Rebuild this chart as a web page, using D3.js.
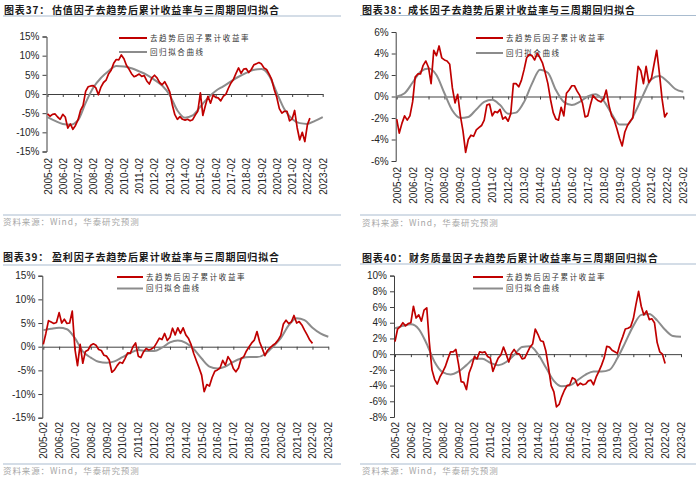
<!DOCTYPE html>
<html>
<head>
<meta charset="utf-8">
<script src="https://cdn.jsdelivr.net/npm/d3@7"></script>
<style>
body { margin: 0; background: #fff; }
svg { display: block; }
.num { font-family: "Liberation Sans", Arial, sans-serif; font-size: 10px; fill: #262626; }
.title { font-family: "Noto Sans CJK SC", sans-serif; font-weight: 700; font-size: 10px; fill: #1a1a1a; letter-spacing: 0.85px; }
.legend { font-family: "Noto Sans CJK SC", sans-serif; font-size: 7.5px; fill: #333; letter-spacing: 1.6px; }
.source { font-family: "Noto Sans CJK SC", sans-serif; font-size: 8.5px; fill: #a6a6a6; letter-spacing: 0.9px; }
</style>
</head>
<body>
<div class="chart"></div>
<script>
var xTickLabels = ["2005-02","2006-02","2007-02","2008-02","2009-02","2010-02","2011-02","2012-02","2013-02",
  "2014-02","2015-02","2016-02","2017-02","2018-02","2019-02","2020-02","2021-02","2022-02","2023-02"];
var seriesStart = "2005-02";
var redStepMonths = 2;   // red series: one value every two months
var fitStepMonths = 6;   // fitted curve: one value every half year
var legendNames = ["去趋势后因子累计收益率", "回归拟合曲线"];
var sourceText = "资料来源：Wind，华泰研究预测";

var titles = ["估值因子去趋势后累计收益率与三周期回归拟合", "成长因子去趋势后累计收益率与三周期回归拟合",
  "盈利因子去趋势后累计收益率与三周期回归拟合", "财务质量因子去趋势后累计收益率与三周期回归拟合"];
var chartNos = ["图表37：", "图表38：", "图表39：", "图表40："];

var red37 = [-5.2,-5.8,-5.3,-5.2,-6.0,-6.6,-5.3,-6.0,-8.9,-7.8,
  -9.2,-8.2,-6.7,-4.3,-3.0,0.7,1.9,2.1,2.2,1.6,
  -0.2,1.8,3.0,3.6,5.3,6.2,8.0,9.0,8.9,10.2,
  9.2,7.5,6.5,5.3,4.5,4.8,5.2,4.6,4.8,3.4,
  2.6,4.2,4.9,4.2,3.0,2.4,3.2,2.0,0.5,-2.8,
  -5.4,-6.6,-5.9,-6.6,-6.8,-6.6,-7.0,-6.7,-5.5,-4.5,
  0.3,-5.6,-3.0,-0.6,-2.4,-0.3,-0.9,-1.0,-1.8,-0.6,
  -0.1,1.5,2.9,3.8,5.4,6.8,5.4,6.5,6.6,5.6,
  6.4,7.6,7.9,8.2,7.8,6.8,6.4,5.2,3.8,1.2,
  -0.9,-3.8,-5.0,-4.5,-4.5,-7.0,-6.5,-4.3,-8.8,-12.0,
  -10.0,-12.4,-8.0,-6.3];
var fit37 = [-6.0,-7.0,-7.8,-8.0,-6.8,-2.3,1.7,4.2,6.0,7.3,
  7.2,6.7,5.9,5.0,3.7,2.2,-0.3,-4.3,-6.2,-5.6,
  -3.3,-1.0,0.8,2.0,3.3,4.5,5.5,6.3,6.5,4.8,
  0.3,-4.0,-6.5,-7.6,-7.8,-7.0,-6.0];

var red38 = [-2.1,-3.4,-2.5,-1.8,-2.2,-1.8,-0.5,1.8,2.1,2.1,
  2.9,3.3,2.7,1.2,4.3,3.8,4.7,3.6,3.4,3.3,
  3.0,0.8,-0.6,0.2,-1.8,-3.2,-5.2,-4.0,-3.6,-3.7,
  -3.1,-2.9,-2.7,-2.2,-0.8,-0.7,-1.8,-1.4,-1.5,-1.2,
  -2.1,-1.9,-2.3,-1.6,1.2,1.2,0.9,1.5,2.5,3.6,
  3.9,3.8,3.4,4.0,3.6,3.1,2.2,1.2,-0.3,-1.5,
  -2.1,-2.2,-1.0,-1.8,0.3,0.6,1.0,1.0,0.5,0.1,
  -0.6,-1.9,-1.8,-0.8,0.1,-0.2,-0.4,-0.5,-0.2,0.6,
  -0.8,-1.8,-2.2,-3.0,-3.9,-4.6,-3.3,-2.7,-2.3,-2.0,
  0.4,2.8,2.4,1.2,2.8,1.3,1.7,3.0,4.3,2.2,
  -0.2,-1.9,-1.5];
var fit38 = [0.0,0.3,1.3,2.3,2.6,2.0,0.3,-1.3,-2.0,-1.9,
  -1.2,-0.5,-0.3,-0.8,-1.6,-1.5,-0.5,1.2,2.5,2.2,
  0.6,-0.5,-0.8,-0.5,0.0,0.2,-0.4,-1.6,-2.6,-2.6,
  -1.4,0.2,1.6,1.9,1.4,0.7,0.45];

var red39 = [0.5,2.8,5.5,5.2,4.9,5.1,7.2,5.0,5.8,4.9,
  5.0,7.5,-0.5,-4.0,0.5,-3.5,-1.0,-0.7,0.3,0.6,
  0.3,-0.6,-0.8,-1.8,-2.0,-2.8,-5.4,-4.9,-4.0,-3.3,
  -3.5,-2.5,-1.3,-1.4,0.0,0.8,-2.0,-2.3,-1.1,-0.4,
  -0.7,-0.5,-0.1,0.8,1.8,1.5,2.8,1.3,2.0,3.9,
  2.5,4.0,2.8,4.0,2.5,1.8,0.5,-1.4,-2.9,-4.4,
  -6.0,-9.5,-8.0,-8.3,-6.5,-5.2,-4.9,-4.5,-2.9,-3.9,
  -2.1,-3.0,-4.6,-5.3,-4.5,-2.5,-2.1,-0.9,0.0,0.8,
  1.4,3.2,1.0,-0.4,-1.9,-0.8,-0.2,0.3,0.7,1.4,
  2.4,4.8,5.6,4.9,5.2,6.6,5.0,5.3,4.6,3.5,
  2.5,1.4,0.7];
var fit39 = [3.5,3.8,4.0,3.7,1.8,-1.0,-2.3,-3.2,-3.4,-3.1,
  -2.2,-1.3,-0.7,-0.9,-0.9,-0.2,0.9,1.3,0.8,-0.5,
  -2.5,-4.2,-4.6,-4.2,-3.2,-2.5,-2.2,-2.2,-1.6,0.0,
  1.8,4.5,6.0,5.6,4.0,2.8,2.1];

var red40 = [1.6,3.2,3.5,4.0,3.6,3.9,4.0,6.1,4.6,5.0,
  4.2,5.6,5.9,1.5,-2.0,-3.2,-3.8,-2.9,-2.3,-1.6,
  -0.6,0.3,0.3,0.6,-1.3,-3.5,-3.6,-4.5,-2.4,-1.5,
  -0.3,-0.6,0.3,0.2,0.3,-0.3,-0.5,-2.2,-1.3,-0.5,
  -0.1,0.9,0.0,-1.0,0.1,0.6,0.1,0.0,-0.6,-0.5,
  0.2,0.9,1.3,3.2,2.5,1.7,1.6,0.4,-1.7,-4.0,
  -4.8,-6.7,-6.4,-5.4,-4.6,-4.0,-3.9,-3.0,-3.2,-4.0,
  -3.7,-3.9,-3.8,-3.4,-3.3,-3.9,-2.9,-2.2,-1.4,-0.5,
  1.0,0.9,0.5,0.3,0.1,1.3,2.2,3.2,3.3,3.5,
  4.5,6.3,8.0,6.1,5.0,5.5,4.4,4.5,4.0,1.5,
  0.3,0.0,-1.2];
var fit40 = [3.3,3.6,3.8,3.2,1.3,-1.0,-2.3,-2.6,-2.2,-1.4,
  -0.6,-0.6,-1.1,-1.4,-1.0,-0.1,0.9,1.0,0.0,-1.7,
  -3.4,-4.1,-4.0,-3.3,-2.6,-2.2,-2.2,-2.0,-0.5,1.5,
  3.6,5.0,5.1,4.3,3.1,2.3,2.2];

var parseMonth = d3.timeParse("%Y-%m");
var startDate = parseMonth(seriesStart);

var panels = [
  { no: 0, red: red37, fit: fit37, yDomain: [-15, 15], yStep: 5,
    xr: [47.5, 322.7], yr: [151.5, 36.5], labelTop: 158, x0: 3, x1: 341, titleX: 4, title2X: 52, titleY: 14,
    topLine: 16, botLine: 215, srcX: 3, srcY: 225, legX: [119, 147], legY: [38, 52] },
  { no: 1, red: red38, fit: fit38, yDomain: [-6, 6], yStep: 2,
    xr: [396.7, 683.3], yr: [161, 32], labelTop: 167, x0: 360, x1: 696, titleX: 362, title2X: 408, titleY: 14,
    topLine: 15.5, botLine: 215, srcX: 362, srcY: 226, legX: [476, 503], legY: [38, 53] },
  { no: 2, red: red39, fit: fit39, yDomain: [-15, 15], yStep: 5,
    xr: [43.3, 328.3], yr: [417.7, 275.7], labelTop: 422, x0: 3, x1: 341, titleX: 3, title2X: 52, titleY: 261,
    topLine: 265, botLine: 464, srcX: 3, srcY: 474, legX: [117, 143], legY: [277, 288.5] },
  { no: 3, red: red40, fit: fit40, yDomain: [-8, 10], yStep: 2,
    xr: [395, 681], yr: [417, 275.6], labelTop: 422, x0: 360, x1: 696, titleX: 362, title2X: 409, titleY: 261.5,
    topLine: 264, botLine: 464, srcX: 362, srcY: 474, legX: [473, 503], legY: [277, 288.5] }
];

var svg = d3.select('.chart').append('svg')
  .attr('width', 700)
  .attr('height', 479);

var redColor = '#c00000';
var fitColor = '#8c8c8c';

function drawPanel(p) {
  var g = svg.append('g');
  var x = d3.scaleTime()
    .domain([parseMonth(xTickLabels[0]), parseMonth(xTickLabels[xTickLabels.length - 1])])
    .range(p.xr);
  var y = d3.scaleLinear().domain(p.yDomain).range(p.yr);
  var tickDates = xTickLabels.map(parseMonth);
  var yTicks = d3.range(p.yDomain[0], p.yDomain[1] + 0.001, p.yStep);

  // title and rules
  g.append('text').attr('class', 'title').attr('x', p.titleX).attr('y', p.titleY).text(chartNos[p.no]);
  g.append('text').attr('class', 'title').attr('x', p.title2X).attr('y', p.titleY).text(titles[p.no]);
  g.append('line').attr('x1', p.x0).attr('x2', p.x1).attr('y1', p.topLine).attr('y2', p.topLine)
    .attr('stroke', '#a9bccf').attr('stroke-width', 1.2);
  g.append('line').attr('x1', p.x0).attr('x2', p.x1).attr('y1', p.botLine).attr('y2', p.botLine)
    .attr('stroke', '#a9bccf').attr('stroke-width', 1.2);
  g.append('text').attr('class', 'source').attr('x', p.srcX).attr('y', p.srcY).text(sourceText);

  // y axis
  var yAxis = g.append('g')
    .attr('transform', 'translate(' + (p.xr[0] - 1) + ',0)')
    .call(d3.axisLeft(y).tickValues(yTicks).tickSize(4).tickPadding(3)
      .tickFormat(function(d) { return d + '%'; }));
  yAxis.select('.domain').attr('stroke', '#404040');
  yAxis.selectAll('.tick line').attr('stroke', '#404040');
  yAxis.selectAll('text').attr('class', 'num').attr('font-size', null).attr('font-family', null);

  // zero line with year ticks
  var zAxis = g.append('g')
    .attr('transform', 'translate(0,' + y(0) + ')')
    .call(d3.axisBottom(x).tickValues(tickDates).tickSize(3).tickSizeOuter(0).tickFormat(''));
  zAxis.select('.domain').attr('stroke', '#404040');
  zAxis.selectAll('.tick line').attr('stroke', '#404040');

  // rotated date labels along the bottom
  var lAxis = g.append('g')
    .attr('transform', 'translate(0,' + p.labelTop + ')')
    .call(d3.axisBottom(x).tickValues(tickDates).tickSize(0).tickFormat(d3.timeFormat('%Y-%m')));
  lAxis.select('.domain').remove();
  lAxis.selectAll('text')
    .attr('class', 'num').attr('font-size', null).attr('font-family', null)
    .attr('transform', 'rotate(-90)')
    .attr('text-anchor', 'end')
    .attr('x', 0).attr('y', 0).attr('dy', '0.35em');

  // legend
  g.append('line').attr('x1', p.legX[0]).attr('x2', p.legX[1]).attr('y1', p.legY[0]).attr('y2', p.legY[0])
    .attr('stroke', redColor).attr('stroke-width', 2);
  g.append('text').attr('class', 'legend').attr('x', p.legX[1] + 3).attr('y', p.legY[0]).attr('dy', '0.35em')
    .text(legendNames[0]);
  g.append('line').attr('x1', p.legX[0]).attr('x2', p.legX[1]).attr('y1', p.legY[1]).attr('y2', p.legY[1])
    .attr('stroke', fitColor).attr('stroke-width', 2);
  g.append('text').attr('class', 'legend').attr('x', p.legX[1] + 3).attr('y', p.legY[1]).attr('dy', '0.35em')
    .text(legendNames[1]);

  // series
  var fitLine = d3.line()
    .x(function(d, i) { return x(d3.timeMonth.offset(startDate, i * fitStepMonths)); })
    .y(function(d) { return y(d); })
    .curve(d3.curveMonotoneX);
  var redLine = d3.line()
    .x(function(d, i) { return x(d3.timeMonth.offset(startDate, i * redStepMonths)); })
    .y(function(d) { return y(d); });

  g.append('path').datum(p.fit).attr('d', fitLine)
    .attr('fill', 'none').attr('stroke', fitColor).attr('stroke-width', 2);
  g.append('path').datum(p.red).attr('d', redLine)
    .attr('fill', 'none').attr('stroke', redColor).attr('stroke-width', 1.7)
    .attr('stroke-linejoin', 'round');
}

panels.forEach(drawPanel);
</script>
</body>
</html>
